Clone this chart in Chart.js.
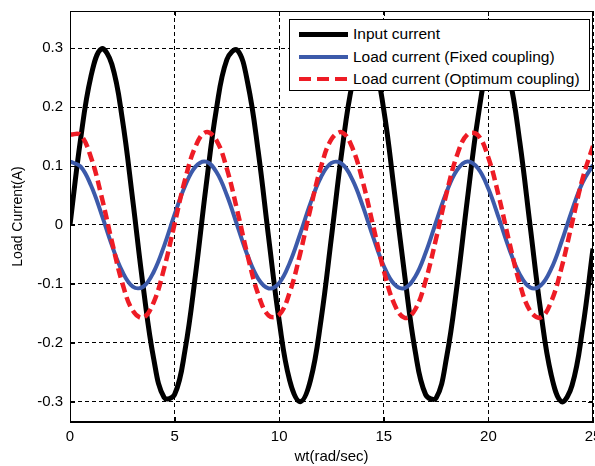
<!DOCTYPE html>
<html>
<head>
<meta charset="utf-8">
<script src="https://cdn.jsdelivr.net/npm/chart.js@4/dist/chart.umd.min.js"></script>
<style>
  html, body { margin: 0; padding: 0; background: #ffffff; }
  #wrap { position: relative; width: 595px; height: 466px; overflow: hidden; background: #fff; }
  #chart { position: absolute; left: 0; top: 0; }
  #legend {
    position: absolute; left: 289px; top: 19px; width: 299px; height: 70px;
    border: 1px solid #000; background: #fff;
    font-family: "Liberation Sans", Arial, sans-serif; font-size: 15.5px; color: #000;
  }
  .row { position: absolute; left: 0; height: 20px; display: flex; align-items: center; white-space: nowrap; }
  .swatch { width: 49px; margin-left: 9px; margin-right: 5px; }
</style>
</head>
<body>
<div id="wrap">
  <canvas id="chart" width="595" height="466"></canvas>
  <div id="legend"></div>
</div>
<script>
// ---- data ----
const xValues = [0,0.5,1,1.5,2,2.5,3,3.5,4,4.5,5,5.5,6,6.5,7,7.5,8,8.5,9,9.5,10,10.5,11,11.5,12,12.5,13,13.5,14,14.5,15,15.5,16,16.5,17,17.5,18,18.5,19,19.5,20,20.5,21,21.5,22,22.5,23,23.5,24,24.5,25];

const inputCurrent = [0,0.144,0.252,0.299,0.273,0.180,0.042,-0.105,-0.227,-0.293,-0.288,-0.212,-0.084,0.065,0.197,0.281,0.297,0.240,0.124,-0.023,-0.163,-0.264,-0.300,-0.263,-0.161,-0.020,0.126,0.241,0.297,0.280,0.195,0.058,-0.086,-0.214,-0.288,-0.294,-0.225,-0.103,0.045,0.182,0.274,0.299,0.251,0.141,-0.003,-0.146,-0.254,-0.300,-0.272,-0.177,-0.040];

const loadFixed = [0.1075,0.0995,0.0674,0.0190,-0.0342,-0.0788,-0.1045,-0.1049,-0.0798,-0.0354,0.0179,0.0663,0.0990,0.1076,0.0899,0.0504,-0.0013,-0.0527,-0.0914,-0.1077,-0.0985,-0.0645,-0.0153,0.0375,0.0814,0.1054,0.1038,0.0770,0.0316,-0.0216,-0.0696,-0.1006,-0.1071,-0.0879,-0.0472,0.0051,0.0559,0.0933,0.1079,0.0964,0.0616,0.0116,-0.0411,-0.0838,-0.1061,-0.1028,-0.0747,-0.0281,0.0253,0.0718,0.1017];

const loadOptimum = [0.1535,0.1528,0.1151,0.0497,-0.0277,-0.0985,-0.1454,-0.1573,-0.1312,-0.0735,0.0020,0.0770,0.1334,0.1576,0.1438,0.0952,0.0238,-0.0534,-0.1178,-0.1538,-0.1526,-0.1146,-0.0490,0.0285,0.0990,0.1457,0.1572,0.1308,0.0728,-0.0027,-0.0776,-0.1339,-0.1577,-0.1435,-0.0946,-0.0231,0.0541,0.1183,0.1539,0.1524,0.1141,0.0482,-0.0292,-0.0997,-0.1461,-0.1571,-0.1304,-0.0721,0.0035,0.0783,0.1342];

const seriesLabels = ["Input current", "Load current (Fixed coupling)", "Load current (Optimum coupling)"];
const xTicks = [0, 5, 10, 15, 20, 25];
const yTicks = [-0.3, -0.2, -0.1, 0, 0.1, 0.2, 0.3];
const xTitle = "wt(rad/sec)";
const yTitle = "Load Current(A)";

// ---- styles ----
const FONT = '"Liberation Sans", Arial, sans-serif';
const colors = ["#000000", "#3c5aaa", "#ee1c25"];

function pts(ys) { return xValues.map((x, i) => ({ x: x, y: ys[i] })); }

const frame = {
  id: 'frame',
  afterDraw(chart) {
    const { ctx, chartArea: a } = chart;
    ctx.save();
    ctx.strokeStyle = '#000';
    ctx.lineWidth = 1;
    ctx.setLineDash([]);
    ctx.strokeRect(Math.round(a.left) + 0.5, Math.round(a.top) + 0.5,
                   Math.round(a.right - a.left) - 1, Math.round(a.bottom - a.top) - 1);
    // inside tick marks (MATLAB style)
    const xs = chart.scales.x, ys = chart.scales.y, L = 5;
    ctx.beginPath();
    xTicks.forEach(v => {
      const p = Math.round(xs.getPixelForValue(v)) + 0.5;
      ctx.moveTo(p, a.bottom); ctx.lineTo(p, a.bottom - L);
      ctx.moveTo(p, a.top); ctx.lineTo(p, a.top + L);
    });
    yTicks.forEach(v => {
      const p = Math.round(ys.getPixelForValue(v)) + 0.5;
      ctx.moveTo(a.left, p); ctx.lineTo(a.left + L, p);
      ctx.moveTo(a.right, p); ctx.lineTo(a.right - L, p);
    });
    ctx.stroke();
    ctx.restore();
  }
};

const ctx = document.getElementById('chart').getContext('2d');
const chart = new Chart(ctx, {
  type: 'line',
  data: {
    datasets: [
      { label: seriesLabels[0], data: pts(inputCurrent), borderColor: colors[0], borderWidth: 5, order: 3 },
      { label: seriesLabels[1], data: pts(loadFixed), borderColor: colors[1], borderWidth: 4, order: 2 },
      { label: seriesLabels[2], data: pts(loadOptimum), borderColor: colors[2], borderWidth: 4.5, borderDash: [10, 5], order: 1 }
    ]
  },
  options: {
    responsive: false,
    animation: false,
    devicePixelRatio: 1,
    elements: { point: { radius: 0 }, line: { tension: 0.4, fill: false, borderCapStyle: 'butt' } },
    layout: { autoPadding: false, padding: { left: 0, top: 11, right: 2, bottom: 0 } },
    plugins: { legend: { display: false }, tooltip: { enabled: false } },
    scales: {
      x: {
        type: 'linear', min: 0, max: 25,
        afterBuildTicks: s => { s.ticks = xTicks.map(v => ({ value: v })); },
        afterFit: s => { s.height = 44; s.paddingLeft = 0; s.paddingRight = 0; },
        ticks: { color: '#000', font: { family: FONT, size: 15 }, padding: 6, maxRotation: 0, autoSkip: false },
        grid: { color: '#000', lineWidth: 1, drawTicks: false },
        border: { display: true, color: '#000', width: 1, dash: [4, 3] },
        title: { display: true, text: xTitle, color: '#000', font: { family: FONT, size: 15 }, padding: { top: 0, bottom: 0 } }
      },
      y: {
        type: 'linear', min: -0.3345, max: 0.3633,
        afterBuildTicks: s => { s.ticks = yTicks.map(v => ({ value: v })); },
        afterFit: s => { s.width = 70; s.paddingTop = 0; s.paddingBottom = 0; },
        ticks: {
          color: '#000', font: { family: FONT, size: 15 }, padding: 7, autoSkip: false,
          callback: v => (Math.abs(v) < 1e-9 ? '0' : v.toFixed(1))
        },
        grid: { color: '#000', lineWidth: 1, drawTicks: false },
        border: { display: true, color: '#000', width: 1, dash: [4, 3] },
        title: { display: true, text: yTitle, color: '#000', font: { family: FONT, size: 14 }, padding: { top: 10, bottom: 0 } }
      }
    }
  },
  plugins: [frame]
});

// ---- legend (HTML, built from the dataset labels) ----
const legend = document.getElementById('legend');
const rowTops = [4, 27, 49];
chart.data.datasets.forEach((ds, i) => {
  const row = document.createElement('div');
  row.className = 'row';
  row.style.top = rowTops[i] + 'px';
  const sw = document.createElement('div');
  sw.className = 'swatch';
  if (ds.borderDash) {
    sw.style.height = '4px';
    sw.style.background = 'repeating-linear-gradient(to right, ' + ds.borderColor + ' 0 12px, transparent 12px 18px)';
  } else {
    sw.style.height = (i === 0 ? 5 : 4) + 'px';
    sw.style.background = ds.borderColor;
  }
  const tx = document.createElement('span');
  tx.textContent = ds.label;
  row.appendChild(sw);
  row.appendChild(tx);
  legend.appendChild(row);
});
</script>
</body>
</html>
